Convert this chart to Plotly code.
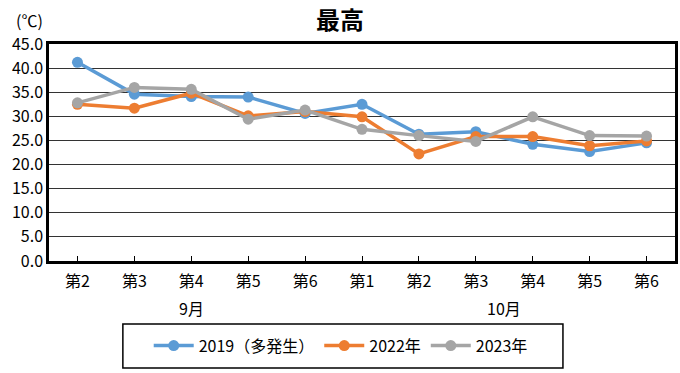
import plotly.graph_objects as go

categories = ["第2", "第3", "第4", "第5", "第6", "第1", "第2", "第3", "第4", "第5", "第6"]
months = ["9月", "10月"]
month_groups = [[0, 1, 2, 3, 4], [5, 6, 7, 8, 9, 10]]

series_names = ["2019（多発生）", "2022年", "2023年"]
v2019 = [41.2, 34.6, 34.1, 34.0, 30.6, 32.5, 26.3, 26.8, 24.2, 22.7, 24.5]
v2022 = [32.5, 31.7, 34.8, 30.1, 31.0, 29.9, 22.2, 25.8, 25.8, 23.9, 24.9]
v2023 = [32.8, 36.0, 35.6, 29.4, 31.3, 27.3, 26.0, 24.8, 29.9, 26.0, 25.9]
colors = ["#5B9BD5", "#ED7D31", "#A5A5A5"]

FONT = "Noto Sans CJK JP"
x_idx = list(range(len(categories)))

fig = go.Figure()
for name, vals, col in zip(series_names, [v2019, v2022, v2023], colors):
    fig.add_trace(go.Scatter(
        x=x_idx, y=vals, name=name, mode="lines+markers",
        line=dict(color=col, width=3.5),
        marker=dict(color=col, size=11),
    ))

for m, grp in zip(months, month_groups):
    fig.add_annotation(
        x=sum(grp) / len(grp), xref="x", y=-0.216, yref="paper",
        text=m, showarrow=False, yanchor="middle", xanchor="center",
        font=dict(family=FONT, size=16, color="#000000"),
    )

fig.add_annotation(
    x=0, xref="paper", xshift=-4, y=1.0, yref="paper", yshift=24,
    text="(℃)", showarrow=False, xanchor="right", yanchor="middle",
    font=dict(family=FONT, size=16, color="#000000"),
)

# legend frame
fig.add_shape(
    type="rect", xref="paper", yref="paper",
    x0=0.118, x1=0.821, y0=-0.493, y1=-0.290,
    line=dict(color="#000000", width=1.5), fillcolor="rgba(0,0,0,0)",
)

fig.update_layout(
    width=680, height=373,
    margin=dict(l=49, r=5, t=44, b=112),
    paper_bgcolor="white", plot_bgcolor="white",
    title=dict(text="<b>最高</b>", x=0.5, xanchor="center", y=0.944, yanchor="middle",
               font=dict(family=FONT, size=24, color="#000000")),
    font=dict(family=FONT, size=16, color="#000000"),
    showlegend=True,
    legend=dict(
        orientation="h", x=0.466, xanchor="center", y=-0.39, yanchor="middle",
        borderwidth=0, bgcolor="rgba(0,0,0,0)",
        font=dict(family=FONT, size=16, color="#000000"),
        itemwidth=40,
    ),
)

fig.update_xaxes(
    range=[-0.5, len(categories) - 0.5],
    tickvals=x_idx, ticktext=categories,
    ticks="inside", ticklen=5, tickcolor="#000000", tickwidth=1,
    ticklabelstandoff=4,
    showgrid=False, zeroline=False, automargin=False,
    showline=True, linecolor="#000000", linewidth=2.5, mirror=True,
    tickfont=dict(family=FONT, size=16, color="#000000"),
)
fig.update_yaxes(
    range=[0, 45], dtick=5, tick0=0, tickformat=".1f",
    showgrid=True, gridcolor="#333333", gridwidth=1,
    zeroline=False, ticks="", automargin=False,
    showline=True, linecolor="#000000", linewidth=2.5, mirror=True,
    tickfont=dict(family=FONT, size=16, color="#000000"),
)

fig.write_html("out.html", config={"displayModeBar": False},
               post_script="document.body.style.margin='0';")
